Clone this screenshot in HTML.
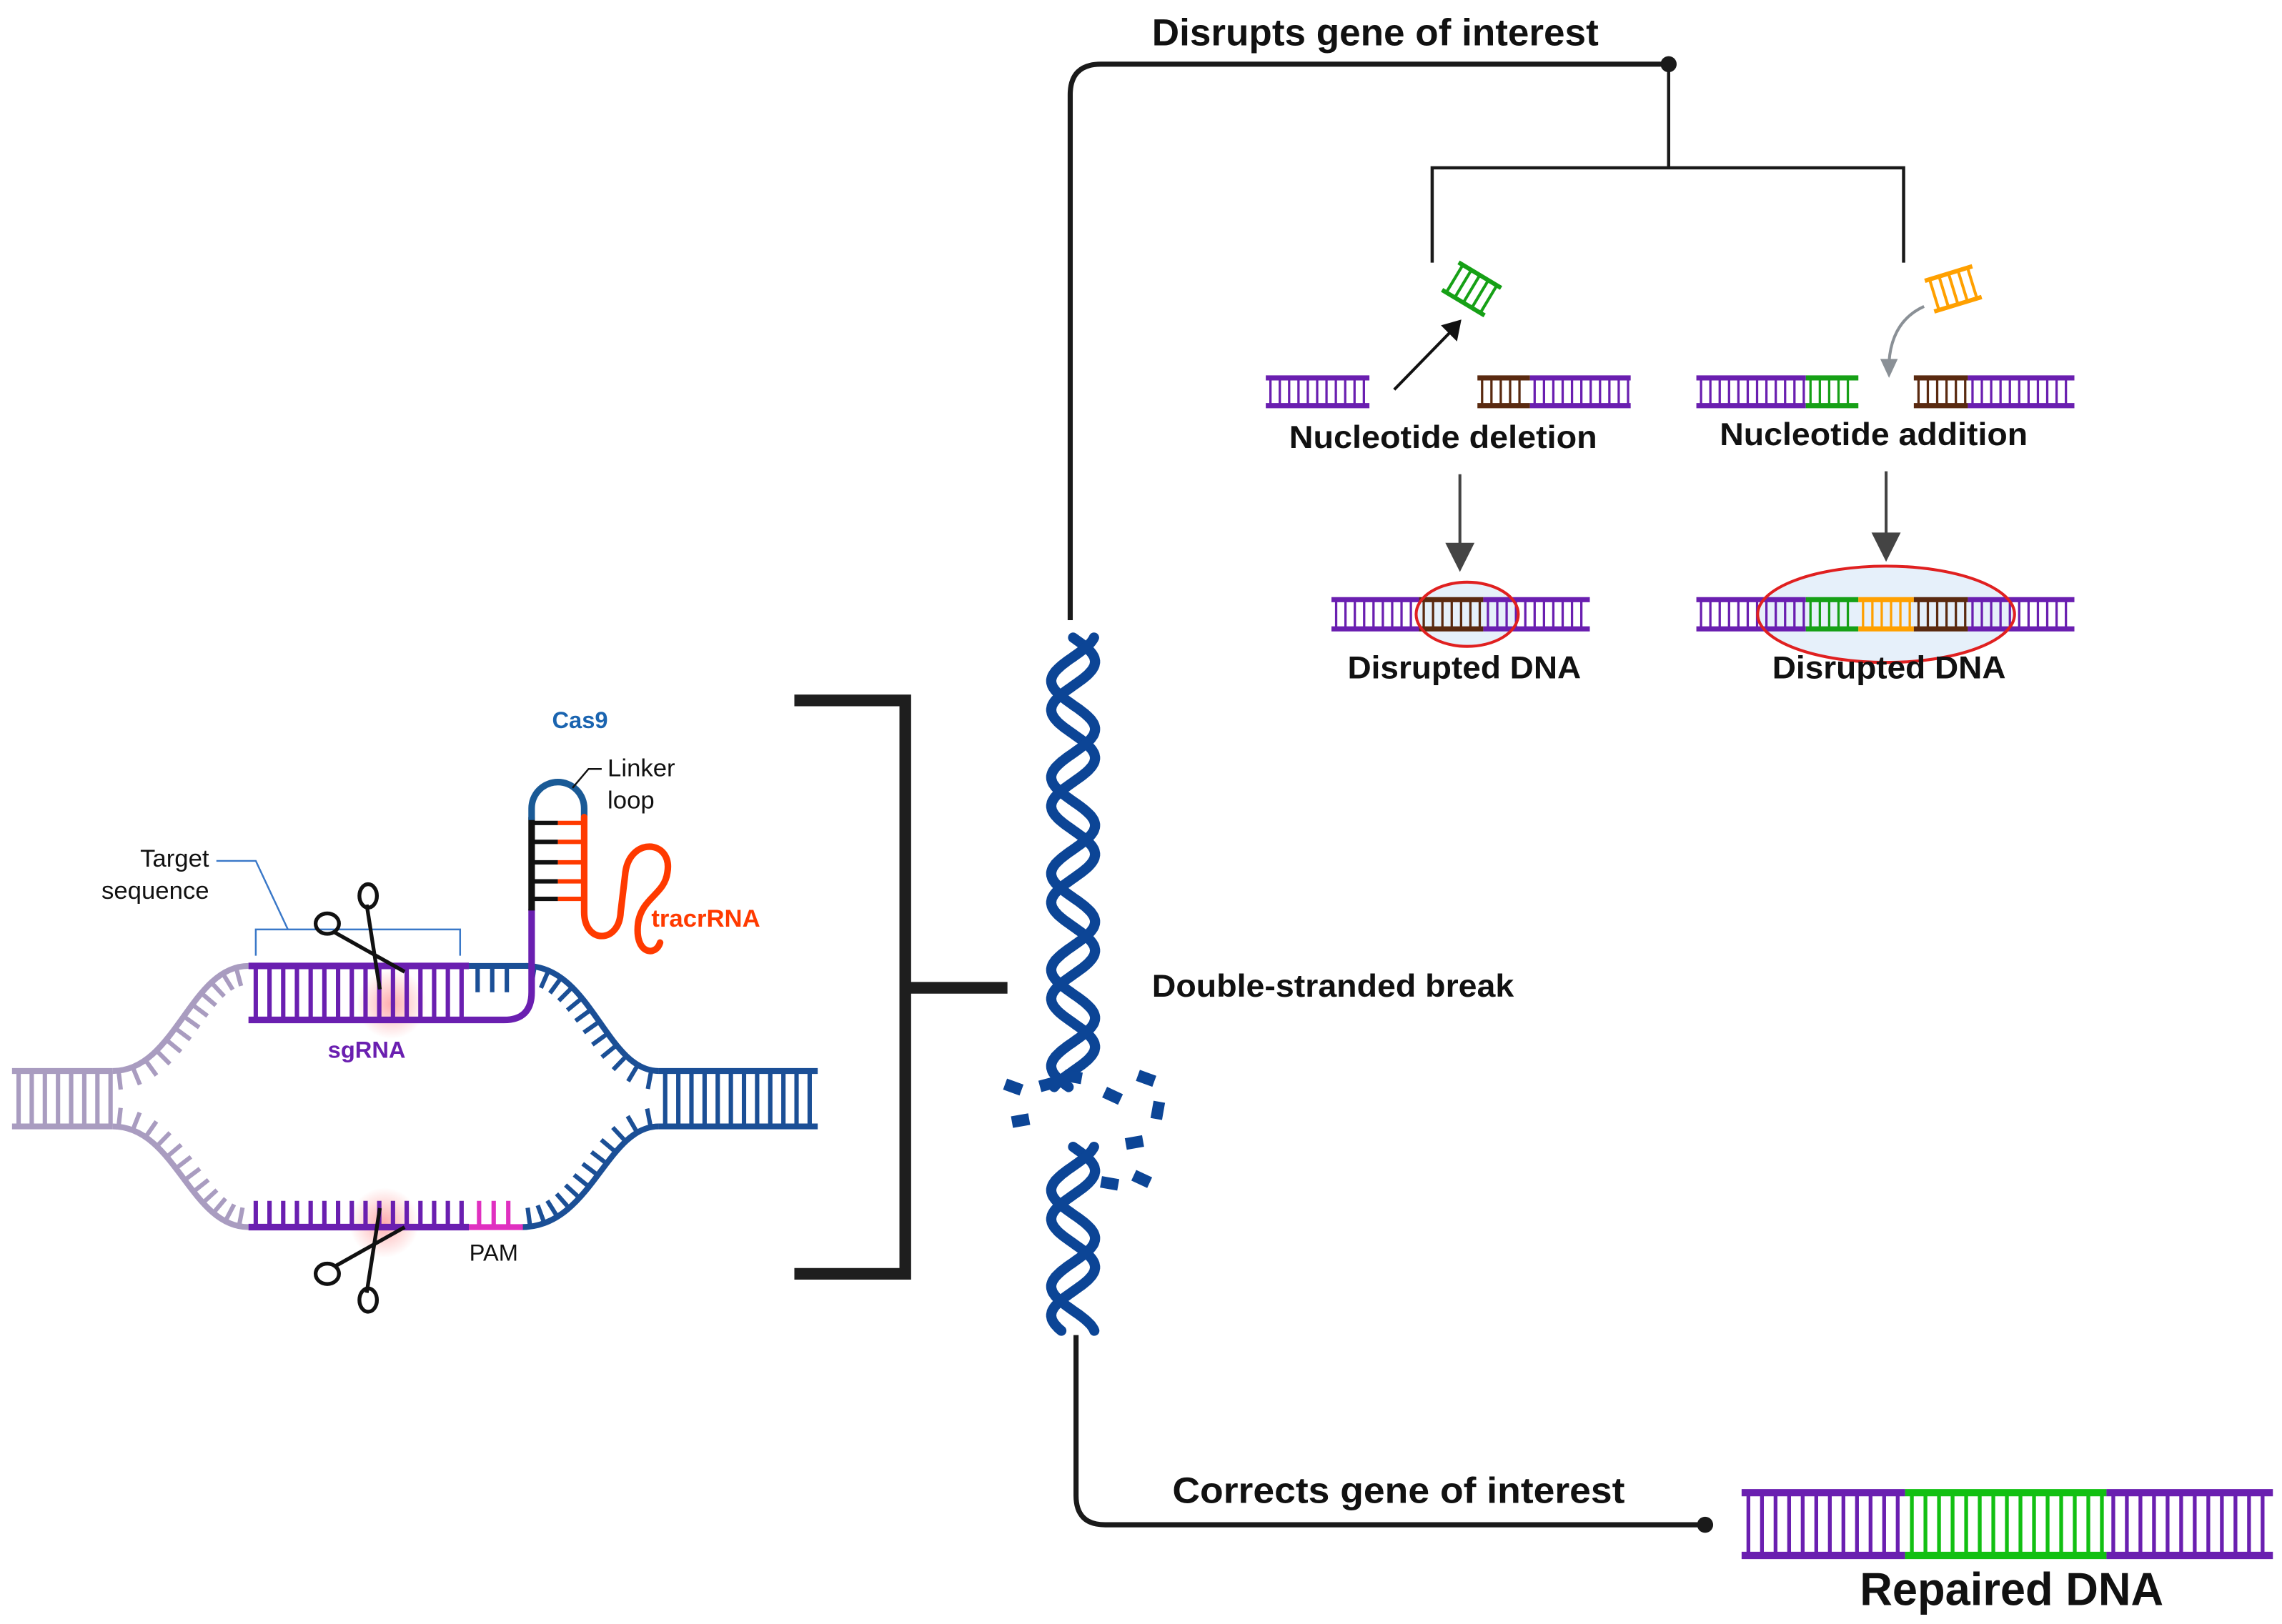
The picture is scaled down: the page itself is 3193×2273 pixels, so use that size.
<!DOCTYPE html>
<html><head><meta charset="utf-8"><style>
html,body{margin:0;padding:0;background:#fff;}
svg{display:block;}
text{font-family:"Liberation Sans",sans-serif;}
</style></head><body>
<svg id="s" xmlns="http://www.w3.org/2000/svg" width="3193" height="2273" viewBox="0 0 1563 1113">
<defs>
<radialGradient id="glow"><stop offset="0" stop-color="#ff6a6a" stop-opacity="0.55"/><stop offset="1" stop-color="#ff6a6a" stop-opacity="0"/></radialGradient>
</defs>
<rect width="1563" height="1113" fill="#fff"/>
<g id="g"></g>

<path d="M733,425 L733,65 Q733,44 754,44 L1143,44" fill="none" stroke="#1a1a1a" stroke-width="3.5"/>
<circle cx="1143" cy="44" r="5.5" fill="#1a1a1a"/>
<path d="M1143,44 L1143,115 M981,180 L981,115 L1304,115 L1304,180" fill="none" stroke="#1a1a1a" stroke-width="2.2"/>
<path d="M737,915 L737,1025 Q737,1045 757,1045 L1168,1045" fill="none" stroke="#1a1a1a" stroke-width="3.5"/>
<circle cx="1168" cy="1045" r="5.5" fill="#1a1a1a"/>
<path d="M544,480 L620,480 L620,873 L544,873 M620,677 L690,677" fill="none" stroke="#1e1e1e" stroke-width="8"/>

<line x1="955" y1="267" x2="994" y2="227" stroke="#111" stroke-width="2"/>
<polygon points="1001,219 998,234 987,223" fill="#111"/>
<path d="M1318,210 Q1296,220 1294,248" fill="none" stroke="#8a9096" stroke-width="2"/>
<polygon points="1288,246 1300,246 1294,259" fill="#8a9096"/>
<line x1="1000" y1="325" x2="1000" y2="373" stroke="#444" stroke-width="2"/>
<polygon points="990,372 1010,372 1000,392" fill="#444"/>
<line x1="1292" y1="323" x2="1292" y2="366" stroke="#444" stroke-width="2"/>
<polygon points="1282,365 1302,365 1292,385" fill="#444"/>

<ellipse cx="1005" cy="421" rx="35" ry="22" fill="#e6f0fa"/>
<ellipse cx="1292" cy="421" rx="88" ry="33" fill="#e6f0fa"/>
<g id="lad"></g>
<ellipse cx="1005" cy="421" rx="35" ry="22" fill="none" stroke="#e02020" stroke-width="2"/>
<ellipse cx="1292" cy="421" rx="88" ry="33" fill="none" stroke="#e02020" stroke-width="2"/>

<g id="hx"></g>

<circle cx="268" cy="688" r="24" fill="url(#glow)"/>
<circle cx="263" cy="838" r="24" fill="url(#glow)"/>
<g id="left"></g>
<path d="M175,655 L175,637 L315,637 L315,655 M197,637 L175,590 L148,590" fill="none" stroke="#3a78c8" stroke-width="1.2"/>
<path d="M392,540 L403,527 L412,527" fill="none" stroke="#111" stroke-width="1.2"/>
<g fill="none" stroke="#111" stroke-width="2.6">
<line x1="229" y1="639" x2="277" y2="666"/><line x1="251" y1="620" x2="260" y2="678"/>
<ellipse cx="224" cy="633" rx="8" ry="7"/><ellipse cx="252" cy="614" rx="6" ry="8"/>
<line x1="229" y1="868" x2="277" y2="841"/><line x1="251" y1="886" x2="260" y2="828"/>
<ellipse cx="224" cy="873" rx="8" ry="7"/><ellipse cx="252" cy="891" rx="6" ry="8"/>
</g>

<g font-weight="bold" fill="#111">
<text x="789" y="31" font-size="26" textLength="306" lengthAdjust="spacingAndGlyphs">Disrupts gene of interest</text>
<text x="883" y="307" font-size="22" textLength="211" lengthAdjust="spacingAndGlyphs">Nucleotide deletion</text>
<text x="1178" y="305" font-size="22" textLength="211" lengthAdjust="spacingAndGlyphs">Nucleotide addition</text>
<text x="923" y="465" font-size="22" textLength="160" lengthAdjust="spacingAndGlyphs">Disrupted DNA</text>
<text x="1214" y="465" font-size="22" textLength="160" lengthAdjust="spacingAndGlyphs">Disrupted DNA</text>
<text x="789" y="683" font-size="22" textLength="248" lengthAdjust="spacingAndGlyphs">Double-stranded break</text>
<text x="803" y="1030" font-size="25" textLength="310" lengthAdjust="spacingAndGlyphs">Corrects gene of interest</text>
<text x="1274" y="1100" font-size="32" textLength="208" lengthAdjust="spacingAndGlyphs">Repaired DNA</text>
</g>
<text x="378" y="499" font-size="16" font-weight="bold" fill="#1a64b0">Cas9</text>
<text x="416" y="532" font-size="17" fill="#111">Linker</text>
<text x="416" y="554" font-size="17" fill="#111">loop</text>
<text x="143" y="594" font-size="17" fill="#111" text-anchor="end">Target</text>
<text x="143" y="616" font-size="17" fill="#111" text-anchor="end">sequence</text>
<text x="446" y="635" font-size="17" font-weight="bold" fill="#ff3a00">tracrRNA</text>
<text x="251" y="725" font-size="16" font-weight="bold" fill="#6a1fb0" text-anchor="middle">sgRNA</text>
<text x="338" y="864" font-size="16" fill="#111" text-anchor="middle">PAM</text>
</svg>
<script>
var NS="http://www.w3.org/2000/svg";
function el(p,tag,a){var e=document.createElementNS(NS,tag);for(var k in a)e.setAttribute(k,a[k]);p.appendChild(e);return e;}
var P="#6a1fb0",G="#16a016",O="#ffa000",B="#5a2a10",LP="#a99cc0",BL="#1b4f96",PK="#e030c0",R="#ff3a00";
var lad=document.getElementById('lad');
function ladder(x1,x2,y1,y2,c,sp,sw,rw,par){par=par||lad;
 for(var x=x1+sp/2;x<x2-1;x+=sp)el(par,'line',{x1:x,y1:y1,x2:x,y2:y2,stroke:c,'stroke-width':rw});
 el(par,'line',{x1:x1,y1:y1,x2:x2,y2:y1,stroke:c,'stroke-width':sw});
 el(par,'line',{x1:x1,y1:y2,x2:x2,y2:y2,stroke:c,'stroke-width':sw});}
ladder(867,938,259,278,P,6.4,3.5,1.6);
ladder(1012,1048,259,278,B,6.4,3.5,1.6);ladder(1048,1117,259,278,P,6.4,3.5,1.6);
ladder(1162,1237,259,278,P,6.4,3.5,1.6);ladder(1237,1273,259,278,G,6.4,3.5,1.6);
ladder(1311,1348,259,278,B,6.4,3.5,1.6);ladder(1348,1421,259,278,P,6.4,3.5,1.6);
ladder(912,972,411,431,P,6.4,3.5,1.6);ladder(972,1016,411,431,B,6.4,3.5,1.6);ladder(1016,1089,411,431,P,6.4,3.5,1.6);
ladder(1162,1237,411,431,P,6.4,3.5,1.6);ladder(1237,1273,411,431,G,6.4,3.5,1.6);ladder(1273,1311,411,431,O,6.4,3.5,1.6);
ladder(1311,1348,411,431,B,6.4,3.5,1.6);ladder(1348,1421,411,431,P,6.4,3.5,1.6);
ladder(1193,1305,1023,1066,P,9.3,5,2.6);ladder(1305,1443,1023,1066,"#12c012",9.3,5,2.6);ladder(1443,1557,1023,1066,P,9.3,5,2.6);
var g1=el(lad,'g',{transform:'translate(1008,198) rotate(31)'});ladder(-17,17,-11,11,G,6.8,3,2,g1);
var g2=el(lad,'g',{transform:'translate(1338,198) rotate(-17)'});ladder(-17,17,-11,11,O,6.8,3,2,g2);
var hx=document.getElementById('hx');
function helix(y0,y1){var per=66,a=15,cx=735;for(var s=0;s<2;s++){var d='';for(var y=y0;y<=y1;y+=1){var x=cx+a*Math.sin(2*Math.PI*(y-y0)/per+s*Math.PI*0.6);d+=(y==y0?'M':'L')+x.toFixed(1)+','+y;}
 el(hx,'path',{d:d,fill:'none',stroke:'#0c4596','stroke-width':7,'stroke-linecap':'round'});}}
helix(437,745);helix(786,912);
var dashes=[[694,745,20],[718,743,-15],[735,738,10],[762,751,25],[785,739,20],[793,761,-80],[699,768,-10],[777,783,-10],[760,811,10],[782,808,25]];
dashes.forEach(function(d){el(hx,'rect',{x:-6,y:-4,width:12,height:8,fill:'#0c4596',transform:'translate('+d[0]+','+d[1]+') rotate('+d[2]+')'});});
var L=document.getElementById('left');
ladder(8,77,734,772,LP,9,4,3,L);
ladder(451,560,734,772,BL,9,4,3,L);
function strand(d,c,tick,dir,t0,t1){var p=el(L,'path',{d:d,fill:'none',stroke:c,'stroke-width':4});
 if(tick){var len=p.getTotalLength();for(var s=t0;s<len-t1;s+=10){var a=p.getPointAtLength(s),b=p.getPointAtLength(s+0.5);var tx=b.x-a.x,ty=b.y-a.y,n=Math.hypot(tx,ty);tx/=n;ty/=n;var nx=-ty*dir,ny=tx*dir;
 el(L,'line',{x1:a.x,y1:a.y,x2:a.x+nx*13,y2:a.y+ny*13,stroke:c,'stroke-width':3});}}}
strand("M77,734 C120,734 130,662 170,662",LP,true,1,4,4);
strand("M77,772 C120,772 130,841 170,841",LP,true,-1,4,4);
strand("M360,662 C405,662 415,734 451,734",BL,true,1,6,4);
strand("M357,841 C405,841 415,772 451,772",BL,true,-1,6,4);
strand("M321,662 L362,662",BL,false);
strand("M321,841 L358,841",PK,false);
[327,337,347].forEach(function(x){el(L,'line',{x1:x,y1:662,x2:x,y2:680,stroke:BL,'stroke-width':3});});
[328,338,348].forEach(function(x){el(L,'line',{x1:x,y1:841,x2:x,y2:823,stroke:PK,'stroke-width':3});});
for(var x=175;x<318;x+=9.4)el(L,'line',{x1:x,y1:841,x2:x,y2:823,stroke:P,'stroke-width':3});
for(var x=175;x<318;x+=9.4)el(L,'line',{x1:x,y1:662,x2:x,y2:699,stroke:P,'stroke-width':3});
el(L,'line',{x1:170,y1:662,x2:321,y2:662,stroke:P,'stroke-width':4.5});
el(L,'line',{x1:170,y1:841,x2:321,y2:841,stroke:P,'stroke-width':4.5});
el(L,'path',{d:"M170,699 L345,699 Q364,699 364,680 L364,623",fill:'none',stroke:P,'stroke-width':4.5});
[564,577,591,604,616].forEach(function(y){el(L,'line',{x1:364,y1:y,x2:382,y2:y,stroke:'#111','stroke-width':3});el(L,'line',{x1:382,y1:y,x2:400,y2:y,stroke:R,'stroke-width':3});});
el(L,'line',{x1:364,y1:560,x2:364,y2:624,stroke:'#111','stroke-width':4.5});
el(L,'path',{d:"M364,562 L364,554 A18,18 0 0 1 400,554 L400,562",fill:'none',stroke:'#1a5a96','stroke-width':4.5});
el(L,'path',{d:"M400,560 L400,625 C400,647 424,647 425,625 L428,600 C430,573 461,575 457,598 C455,613 440,615 437,632 C434,654 449,656 452,646",fill:'none',stroke:R,'stroke-width':4.5,'stroke-linecap':'round'});
</script>
</body></html>
